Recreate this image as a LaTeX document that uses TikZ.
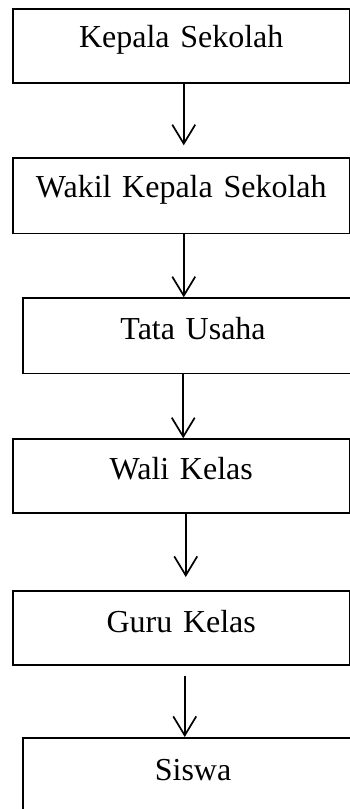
\documentclass[tikz,border=0pt]{standalone}
\usepackage{fontspec}
\setmainfont{Liberation Serif}
\usetikzlibrary{arrows.meta}
\begin{document}
\begin{tikzpicture}[x=1pt,y=-1pt,
  box/.style n args={4}{draw, line width=1.5pt, inner sep=0pt, anchor=north west,
    text width=#1pt, minimum width=#1pt, align=center, text height=#3pt, text depth=#4pt,
    font=\fontsize{32}{38}\selectfont},
  arr/.style={line width=1.7pt, -{Straight Barb[length=19pt,width=23pt,line width=1.7pt]}}]
\useasboundingbox (0,0) rectangle (350,809);
\clip (0,0) rectangle (350,809);
\node[box={337}{74.3}{38.7}{35.6}] (b1) at (12,8) {Kepala Sekolah};
\node[box={337}{75.4}{39}{36.4}] (b2) at (12,157.3) {Wakil Kepala Sekolah};
\node[box={340}{75.4}{41}{34.4}] (b3) at (22.3,297.3) {Tata Usaha};
\node[box={337}{74}{40}{34}] (b4) at (12,438.3) {Wali Kelas};
\node[box={337}{74}{42}{32}] (b5) at (12,590) {Guru Kelas};
\node[box={340}{100}{43}{57}] (b6) at (22.3,737) {Siswa};
\draw[arr, shorten >=12pt] ([xshift=2.5pt]b1.south) -- ([xshift=2.5pt]b1.south |- b2.north);
\draw[arr] ([xshift=2.5pt]b2.south) -- ([xshift=2.5pt]b2.south |- b3.north);
\draw[arr] ([xshift=2pt]b4.north |- b3.south) -- ([xshift=2pt]b4.north);
\draw[arr, shorten >=13pt] ([xshift=4.5pt]b4.south) -- ([xshift=4.5pt]b4.south |- b5.north);
\draw[arr, shorten <=10pt] ([xshift=3.5pt]b5.south) -- ([xshift=3.5pt]b5.south |- b6.north);
\end{tikzpicture}
\end{document}
